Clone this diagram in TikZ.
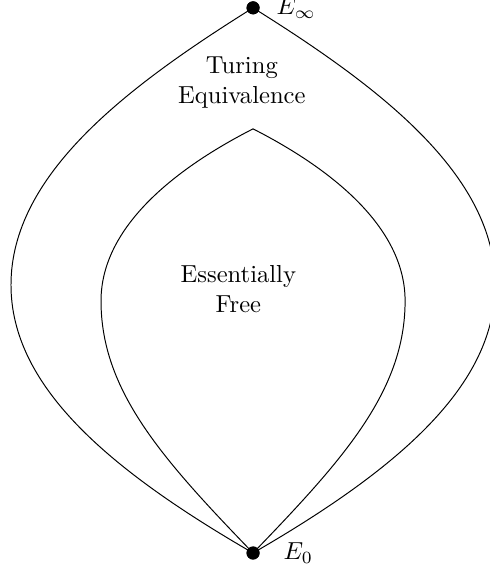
\documentclass[tikz,border=0pt]{standalone}
\usepackage{xcolor}
\usetikzlibrary{positioning, math}
\tikzset{
dot/.style={circle, fill=black, inner sep=0pt, minimum size=5.3pt},
tag/.style={inner sep=0pt},
region/.style={align=center},
}

\begin{document}
\begin{tikzpicture}[line width=0.4pt]
\tikzmath{
\H=7.788;
\A=6.059;
\wo=3.458;
\yo=3.830;
\wi=2.172;
\yi=3.601;
}
\useasboundingbox (-3.615,-0.257) rectangle (3.372,7.90);

\node[dot] (E0) at (0,0) {};
\node[dot] (Einf) at (0,\H) {};
\node[tag, right=0.33cm of E0] (l0) {$E_0$};
\node[tag, right=0.23cm of Einf] (linf) {$E_\infty$};

\coordinate (apex) at (0,\A);
\coordinate (OL) at (-\wo,\yo);
\coordinate (OR) at (\wo,\yo);
\coordinate (IL) at (-\wi,\yi);
\coordinate (IR) at (\wi,\yi);

%%%%%%%%%% outer region
\draw (Einf.center) .. controls (-1.818,6.652) and (-\wo,5.402) .. (OL)
      .. controls (-\wo,2.401) and (-2.103,1.215) .. (E0.center);
\draw (Einf.center) .. controls (1.818,6.652) and (\wo,5.402) .. (OR)
      .. controls (\wo,2.401) and (2.103,1.215) .. (E0.center);

%%%%%%%%%% inner region
\draw (apex) .. controls (-1.082,5.507) and (-\wi,4.673) .. (IL)
      .. controls (-\wi,2.315) and (-1.290,1.336) .. (E0.center);
\draw (apex) .. controls (1.082,5.507) and (\wi,4.673) .. (IR)
      .. controls (\wi,2.315) and (1.290,1.336) .. (E0.center);

\node[dot] at (E0) {};
\node[dot] at (Einf) {};

\node[region] (turing) at (-0.16,6.72) {Turing\\Equivalence};
\node[region] (free) at (-0.21,3.77) {Essentially\\Free};
\end{tikzpicture}
\end{document}
